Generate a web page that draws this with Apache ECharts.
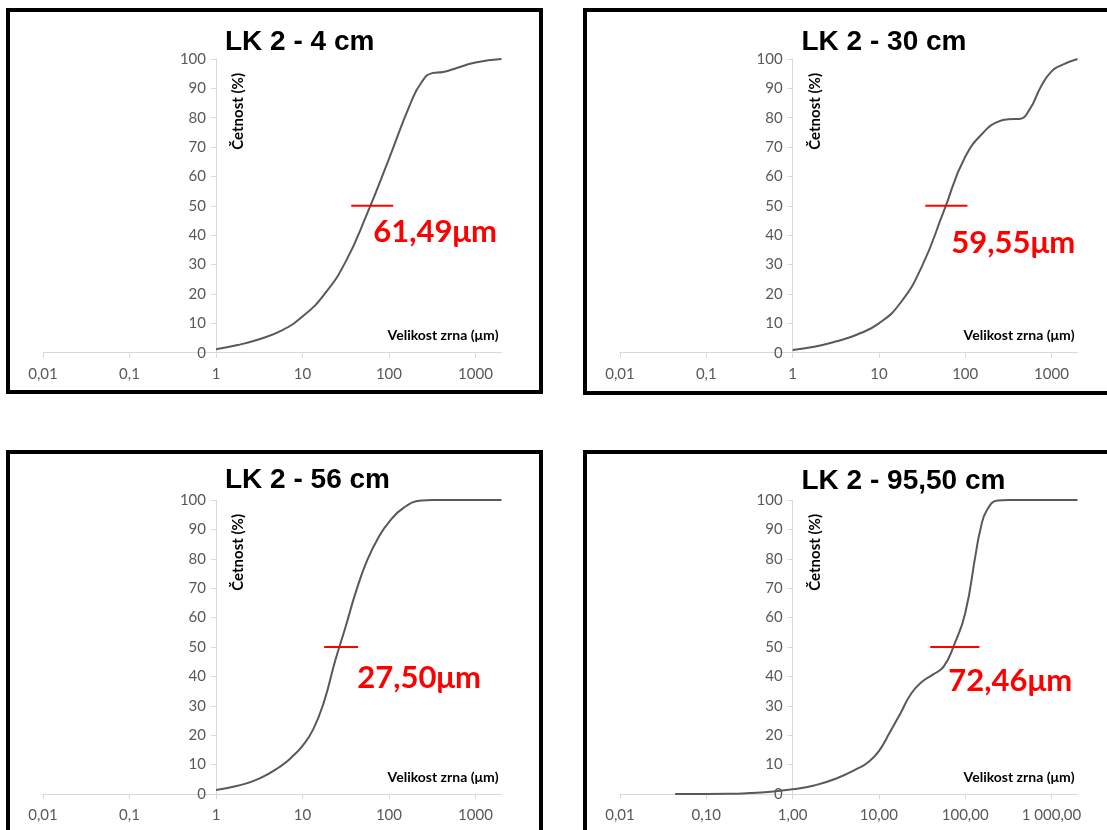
<!DOCTYPE html>
<html>
<head>
<meta charset="utf-8">
<script src="https://cdn.jsdelivr.net/npm/echarts@6/dist/echarts.min.js"></script>
<style>
html,body{margin:0;padding:0;background:#fff;}
#chart{width:1107px;height:830px;}
</style>
</head>
<body>
<div id="chart"></div>
<script>
// ---- data ----
const panelTitles = ['LK 2 - 4 cm', 'LK 2 - 30 cm', 'LK 2 - 56 cm', 'LK 2 - 95,50 cm'];
const yAxisName = 'Četnost (%)';
const xAxisName = 'Velikost zrna (μm)';

const curve4cm = [[1,1.2],[1.78,2.6],[3.16,4.6],[5.62,7.4],[10,12.3],[17.8,19.8],[31.6,31],[56.2,47.5],[100,66],[178,85],[237,92],[316,95.2],[422,95.6],[562,96.6],[1000,98.8],[2000,100]];
const curve30cm = [[1,0.9],[1.78,2.0],[3.16,3.8],[5.62,6.2],[10,10],[17.8,17],[31.6,29.5],[56.2,48],[100,66.7],[178,76.2],[237,78.6],[316,79.5],[422,79.6],[562,83],[750,90.5],[1000,95.8],[1330,98],[2000,100]];
const curve56cm = [[1,1.4],[1.78,2.8],[3.16,5.2],[5.62,9.5],[7.5,12.5],[10,16.4],[13.3,22],[17.8,31.5],[23.7,45],[31.6,57],[42.2,69.5],[56.2,79.6],[75,87.1],[100,92.5],[150,97.5],[237,99.8],[316,100],[2000,100]];
const curve95cm = [[0.0435,0],[0.1,0],[0.178,0.05],[0.316,0.3],[0.562,0.8],[1,1.6],[1.78,2.9],[3.16,5.2],[5.62,8.6],[7.5,10.8],[10,14.6],[13.3,20.8],[17.8,27.5],[23.7,34.2],[31.6,38.2],[42.2,40.6],[56.2,43.3],[75,51],[100,61.5],[133,82],[150,90],[178,96.5],[237,99.8],[316,100],[2000,100]];
const curves = [curve4cm, curve30cm, curve56cm, curve95cm];

const medianLabels = ['61,49μm', '59,55μm', '27,50μm', '72,46μm'];
const markerRanges = [[36.6,112],[34.5,106],[17.8,44],[39.4,146]];
const markerLevel = 50;
const labelAnchors = [[65.7,41.1],[69,37.4],[42.9,39.5],[63.7,38.4]];

const xTickValues = [0.01, 0.1, 1, 10, 100, 1000];
const xTickLabelsPlain = ['0,01', '0,1', '1', '10', '100', '1000'];
const xTickLabelsFixed = ['0,01', '0,10', '1,00', '10,00', '100,00', '1 000,00'];
const xTickLabelSets = [xTickLabelsPlain, xTickLabelsPlain, xTickLabelsPlain, xTickLabelsFixed];
const xMin = 0.01, xMax = 2000;
const yMin = 0, yMax = 100, yStep = 10;

// ---- layout ----
const grids = [
  {left: 43, top: 59, width: 458.5, height: 293.7},
  {left: 620, top: 59, width: 457.5, height: 293.7},
  {left: 43, top: 500, width: 458.5, height: 294},
  {left: 620, top: 500, width: 457.5, height: 294}
];
const titlePos = [[225, 28], [801.5, 28], [225, 466], [801.5, 467]];
const frames = [
  {x: 8, y: 10, width: 533, height: 382},
  {x: 585, y: 10, width: 540, height: 383},
  {x: 8, y: 452, width: 533, height: 400},
  {x: 585, y: 452, width: 540, height: 400}
];

const axisGray = '#d9d9d9';
const labelGray = '#595959';
const font = 'Lato, "Open Sans", sans-serif';

const option = {
  backgroundColor: '#fff',
  animation: false,
  title: panelTitles.map((t, i) => ({
    text: t, left: titlePos[i][0], top: titlePos[i][1], padding: 0,
    textStyle: {fontFamily: '"Liberation Sans", Arial, sans-serif', fontWeight: 'bold', fontSize: 28, color: '#000'}
  })),
  graphic: frames.map(f => ({
    type: 'rect', shape: f, silent: true, z: 100,
    style: {fill: 'none', stroke: '#000', lineWidth: 4}
  })),
  grid: grids.map(g => Object.assign({containLabel: false}, g)),
  xAxis: grids.map((g, i) => ({
    type: 'log', logBase: 10, gridIndex: i, min: xMin, max: xMax,
    name: xAxisName, nameLocation: 'end', nameGap: -3,
    nameTextStyle: {fontFamily: font, fontWeight: 'bold', fontSize: 14, color: '#000', align: 'right', verticalAlign: 'bottom', padding: [0, 0, 10, 0]},
    axisLine: {show: true, lineStyle: {color: axisGray, width: 1}},
    axisTick: {show: true, length: 5, lineStyle: {color: axisGray}, customValues: xTickValues},
    minorTick: {show: false},
    splitLine: {show: false},
    axisLabel: {
      customValues: xTickValues,
      margin: 14, fontFamily: font, fontSize: 15, color: labelGray,
      formatter: (v) => {
        const k = xTickValues.findIndex(t => Math.abs(Math.log10(t) - Math.log10(v)) < 1e-6);
        return k >= 0 ? xTickLabelSets[i][k] : '';
      }
    }
  })),
  yAxis: grids.map((g, i) => ({
    type: 'value', gridIndex: i, min: yMin, max: yMax, interval: yStep,
    position: 'left',
    offset: -g.width * (Math.log10(1) - Math.log10(xMin)) / (Math.log10(xMax) - Math.log10(xMin)),
    name: yAxisName, nameLocation: 'end', nameGap: -14, nameRotate: 90,
    nameTextStyle: {fontFamily: font, fontWeight: 'bold', fontSize: 15, color: '#000', align: 'right', verticalAlign: 'top', padding: [15, 0, 0, 0]},
    axisLine: {show: true, onZero: false, lineStyle: {color: axisGray, width: 1}},
    axisTick: {show: true, length: 5, lineStyle: {color: axisGray}},
    splitLine: {show: false},
    axisLabel: {margin: 10, fontFamily: font, fontSize: 15, color: labelGray}
  })),
  series: []
};

curves.forEach((c, i) => {
  option.series.push({
    type: 'line', xAxisIndex: i, yAxisIndex: i, data: c,
    smooth: 0.5, showSymbol: false, symbol: 'none',
    lineStyle: {color: '#595959', width: 2}, z: 3
  });
  option.series.push({
    type: 'line', xAxisIndex: i, yAxisIndex: i,
    data: markerRanges[i].map(x => [x, markerLevel]),
    showSymbol: false, symbol: 'none',
    lineStyle: {color: '#ff0000', width: 2}, z: 4
  });
  option.series.push({
    type: 'scatter', xAxisIndex: i, yAxisIndex: i,
    data: [labelAnchors[i]], symbolSize: 0,
    itemStyle: {opacity: 1},
    label: {
      show: true, position: 'right', distance: 0, opacity: 1,
      formatter: () => medianLabels[i],
      fontFamily: font, fontWeight: 'bold', fontSize: 31, color: '#ff0000'
    }, z: 5
  });
});

const chart = echarts.init(document.getElementById('chart'), null, {renderer: 'canvas'});
chart.setOption(option);
</script>
</body>
</html>
